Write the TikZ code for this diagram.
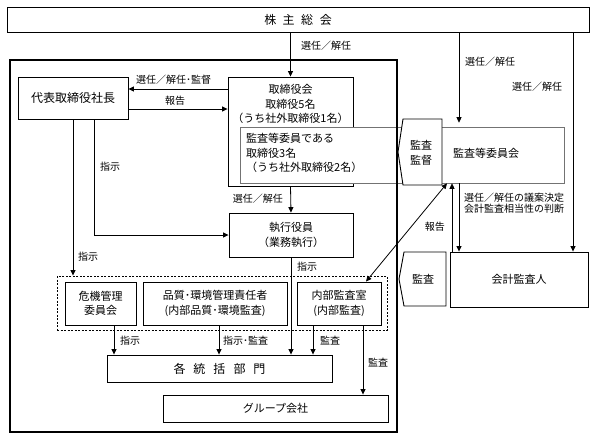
\documentclass[tikz,border=0pt]{standalone}
\usepackage{fontspec}
\newfontfamily\jp{Noto Sans CJK JP}
\usetikzlibrary{arrows.meta}
\begin{document}
\begin{tikzpicture}[x=1pt,y=-1pt,
  box/.style={draw,line width=0.9pt,fill=white,inner sep=1pt,align=center,
    font=\jp\fontsize{11}{14.5}\selectfont},
  txt/.style={inner sep=0pt,font=\jp\fontsize{11}{14.5}\selectfont},
  lbl/.style={inner sep=0pt,font=\jp\fontsize{10}{11.5}\selectfont},
  arr/.style={line width=0.8pt,-{Triangle[length=5.5pt,width=5pt]}},
  darr/.style={line width=0.8pt,{Triangle[length=5.5pt,width=5pt]}-{Triangle[length=5.5pt,width=5pt]}}]
\useasboundingbox (0,0) rectangle (597,440);

% top
\node[box,minimum width=582,minimum height=25,font=\jp\fontsize{12}{14}\selectfont] (share) at (298,19.5)
  {株\hspace{6.5pt}主\hspace{6.5pt}総\hspace{6.5pt}会};

% company side
\node[box,minimum width=110,minimum height=42,font=\jp\fontsize{12}{14}\selectfont] (pres) at (73,98) {代表取締役社長};
\node[box,minimum width=125,minimum height=109] (board) at (290.5,131.5) {};
\node[txt,align=center] (boardtxt) at (290.5,104) {取締役会\\取締役5名\\（うち社外取締役1名）};
\node[draw=black!55,line width=0.6pt,fill=white,minimum width=324,minimum height=56,inner sep=0pt] (acbox) at (402,155) {};
\node[txt,align=left,anchor=west] (actxt) at (246,153) {監査等委員である\\取締役3名\\（うち社外取締役2名）};
\node[txt,anchor=west] (actitle) at (453,153) {監査等委員会};

\node[box,minimum width=124,minimum height=44] (exec) at (291,235) {執行役員\\（業務執行）};

\node[draw,dashed,dash pattern=on 2pt off 1.5pt,line width=0.9pt,minimum width=330,minimum height=54,inner sep=0pt] (dash) at (222,303) {};
\node[box,minimum width=71,minimum height=43] (risk) at (100.5,303.5) {危機管理\\委員会};
\node[box,minimum width=144,minimum height=43] (qual) at (215,303.5) {品質･環境管理責任者\\(内部品質･環境監査)};
\node[box,minimum width=84,minimum height=43] (ia) at (339,303.5) {内部監査室\\(内部監査)};

\node[box,minimum width=225,minimum height=27,font=\jp\fontsize{12}{14}\selectfont] (depts) at (219.5,368.5)
  {各\hspace{8pt}統\hspace{8pt}括\hspace{8pt}部\hspace{8pt}門};
\node[box,minimum width=225,minimum height=27] (group) at (275.5,408.5) {グループ会社};

\node[draw,line width=1.8pt,minimum width=387,minimum height=372,inner sep=0pt] (co) at (203.5,246) {};

% audit side
\draw[line width=0.9pt,fill=white] (403,119) -- (442,119) -- (442,185) -- (403,185) -- (398,152) -- cycle;
\node[txt,align=center] (supv) at (421,153) {監査\\監督};
\draw[line width=0.9pt,fill=white] (404,252) -- (446,252) -- (446,306) -- (404,306) -- (399,279) -- cycle;
\node[txt] (aud) at (423,279) {監査};
\node[box,minimum width=138,minimum height=55] (auditor) at (519,279.5) {会計監査人};

% connectors
\draw[arr] (share.south -| board.north) -- (board.north);
\node[lbl,anchor=west] (l1) at (301,46) {選任／解任};
\draw[arr,shorten >=4pt] (share.south -| 459,0) -- (acbox.north -| 459,0);
\node[lbl,anchor=west] (l2) at (465,62) {選任／解任};
\draw[arr] (share.south -| 573,0) -- (auditor.north -| 573,0);
\node[lbl,anchor=west] (l3) at (512,87) {選任／解任};

\draw[arr] (board.west |- 0,89) -- (pres.east |- 0,89);
\node[lbl] (l4) at (173.5,80) {選任／解任･監督};
\draw[arr] (pres.east |- 0,109) -- (board.west |- 0,109);
\node[lbl] (l5) at (175,101) {報告};

\draw[arr] (pres.south -| 94,0) |- (exec.west);
\node[lbl,anchor=west] (l6) at (100,167) {指示};
\draw[arr] (pres.south -| 73,0) -- (dash.north -| 73,0);
\node[lbl,anchor=west] (l7) at (78,257) {指示};

\draw[arr] (board.south) -- (exec.north);
\node[lbl,anchor=east] (l8) at (283,199) {選任／解任};
\draw[arr] (exec.south) -- (depts.north -| exec.south);
\node[lbl,anchor=west] (l9) at (297,267) {指示};

\draw[arr] (risk.south -| 114,0) -- (depts.north -| 114,0);
\node[lbl,anchor=west] (l10) at (120,341) {指示};
\draw[arr] (qual.south -| 219,0) -- (depts.north -| 219,0);
\node[lbl,anchor=west] (l11) at (223,341) {指示･監査};
\draw[arr] (ia.south -| 313,0) -- (depts.north -| 313,0);
\node[lbl,anchor=west] (l12) at (320,341) {監査};
\draw[arr] (ia.south -| 363,0) -- (group.north -| 363,0);
\node[lbl,anchor=west] (l13) at (368,363) {監査};

\draw[darr] (ia.north -| 366,0) -- (acbox.south -| 447,0);
\draw[arr] (auditor.north -| 452,0) -- (acbox.south -| 452,0);
\node[lbl,anchor=east] (l14) at (445,227) {報告};
\draw[arr] (acbox.south -| 459,0) -- (auditor.north -| 459,0);
\node[lbl,anchor=west,align=left] (l15) at (464,203) {選任／解任の議案決定\\会計監査相当性の判断};
\end{tikzpicture}
\end{document}
